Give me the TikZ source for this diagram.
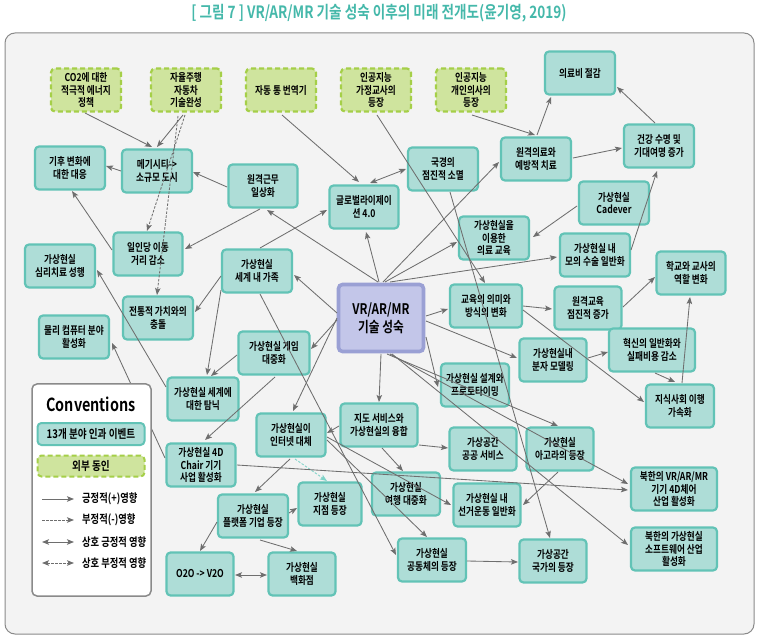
\documentclass[tikz,border=0pt]{standalone}
\usepackage{fontspec}
\setmainfont{Noto Sans CJK KR}[FakeStretch=0.8, BoldFont={Noto Sans CJK KR Bold}, BoldFeatures={FakeStretch=0.8}]
\usetikzlibrary{arrows.meta,calc}
\definecolor{tealF}{HTML}{AEDDD7}
\definecolor{tealB}{HTML}{62C3B6}
\definecolor{grnF}{HTML}{CFE49E}
\definecolor{grnB}{HTML}{A5CF48}
\definecolor{vrF}{HTML}{C3C6E9}
\definecolor{vrB}{HTML}{9AA0D4}
\definecolor{panelF}{HTML}{F3F3F3}
\definecolor{panelB}{HTML}{8A8A8A}
\definecolor{arrC}{HTML}{6E6E6E}
\definecolor{titleC}{HTML}{45B8AA}
\definecolor{negT}{HTML}{7FD3C8}
\newcommand\evfont{\fontsize{10.8}{12.6}\selectfont\bfseries}
\begin{document}
\begin{tikzpicture}[x=1pt,y=-1pt,
  ev/.style={draw=tealB, fill=tealF, line width=2.2pt, rounded corners=4pt, minimum width=70pt, minimum height=43pt, align=center, inner sep=1pt, font=\evfont},
  ex/.style={ev, draw=grnB, fill=grnF, dash pattern=on 5pt off 3pt},
  tip/.style={-{Stealth[length=7pt,width=5.5pt,inset=1.5pt]}},
  arr/.style={draw=arrC, line width=0.85pt, tip},
  both/.style={draw=arrC, line width=0.85pt, {Stealth[length=7pt,width=5.5pt,inset=1.5pt]}-{Stealth[length=7pt,width=5.5pt,inset=1.5pt]}},
  neg/.style={arr, dash pattern=on 2.5pt off 1.5pt},
  negt/.style={arr, draw=negT, dash pattern=on 2.5pt off 1.5pt},
  negboth/.style={both, dash pattern=on 2.5pt off 1.5pt},
  legtxt/.style={anchor=west, font=\fontsize{11.6}{13}\selectfont\bfseries, inner sep=0pt}
]
\useasboundingbox (0,0) rectangle (758,636);
\draw[fill=panelF, draw=panelB, line width=1pt, rounded corners=10pt] (5,33) rectangle (754,634);
\node[font=\fontsize{17}{19}\selectfont\bfseries, text=titleC] (title) at (379,13) {[ 그림 7 ] VR/AR/MR 기술 성숙 이후의 미래 전개도(윤기영, 2019)};

% external drivers
\node[ex] (co2) at (86,90) {CO2에 대한\\적극적 에너지\\정책};
\node[ex] (auto) at (186,90) {자율주행\\자동차\\기술완성};
\node[ex] (trans) at (281,90) {자동 통 번역기};
\node[ex] (aitutor) at (376,90) {인공지능\\가정교사의\\등장};
\node[ex] (aidoc) at (471,90) {인공지능\\개인의사의\\등장};

% events
\node[ev] (medcost) at (580,73) {의료비 절감};
\node[ev] (health) at (659,146) {건강 수명 및\\기대여명 증가};
\node[ev] (telemed) at (536,159) {원격의료와\\예방적 치료};
\node[ev] (cadever) at (614,203) {가상현실\\Cadever};
\node[ev] (medu) at (494,238) {가상현실을\\이용한\\의료 교육};
\node[ev] (surg) at (595,255) {가상현실 내\\모의 수술 일반화};
\node[ev, minimum width=69pt] (school) at (691,273) {학교와 교사의\\역할 변화};
\node[ev, minimum width=67pt] (remedu) at (588,308) {원격교육\\점진적 증가};
\node[ev, minimum width=72pt] (edu) at (486,306) {교육의 의미와\\방식의 변화};
\node[ev, minimum width=86pt] (innov) at (652,350) {혁신의 일반화와\\실패비용 감소};
\node[ev, minimum width=67pt] (mol) at (553,360) {가상현실내\\분자 모델링};
\node[ev, minimum width=68pt] (know) at (680,406) {지식사회 이행\\가속화};
\node[ev, minimum width=68pt] (design) at (475,385) {가상현실 설계와\\프로토타이밍};
\node[ev, draw=vrB, fill=vrF, line width=3.6pt, minimum width=85pt, minimum height=67pt, font=\fontsize{14.6}{18}\selectfont\bfseries] (vr) at (381,318) {VR/AR/MR\\기술 성숙};
\node[ev] (border) at (443,169) {국경의\\점진적 소멸};
\node[ev, minimum width=69pt] (glob) at (364,207) {글로벌라이제이\\션 4.0};
\node[ev, minimum width=69pt] (remwork) at (263,186) {원격근무\\일상화};
\node[ev] (mega) at (157,171) {메기시티->\\소규모 도시};
\node[ev] (climate) at (70,168) {기후 변화에\\대한 대응};
\node[ev, minimum width=69pt] (mobil) at (148,254) {일인당 이동\\거리 감소};
\node[ev] (psych) at (60,266) {가상현실\\심리치료 성행};
\node[ev] (family) at (257,271) {가상현실\\세계 내 가족};
\node[ev] (trad) at (158,318) {전통적 가치와의\\충돌};
\node[ev] (phys) at (74,337) {물리 컴퓨터 분야\\활성화};
\node[ev, minimum width=71pt] (game) at (274,353) {가상현실 게임\\대중화};
\node[ev, minimum width=71pt] (addict) at (203,399) {가상현실 세계에\\대한 탐닉};
\node[ev, minimum width=69pt] (chair) at (201,465) {가상현실 4D\\Chair 기기\\사업 활성화};
\node[ev, minimum width=69pt] (inet) at (291,435) {가상현실이\\인터넷 대체};
\node[ev] (platform) at (253,516) {가상현실\\플랫폼 기업 등장};
\node[ev, minimum width=63pt] (branch) at (330,504) {가상현실\\지점 등장};
\node[ev, minimum width=67pt] (oto) at (200,574) {O2O -> V2O};
\node[ev, minimum width=67pt] (dept) at (302,574) {가상현실\\백화점};
\node[ev, minimum width=77pt] (map) at (379,425) {지도 서비스와\\가상현실의 융합};
\node[ev, minimum width=67pt] (public) at (483,449) {가상공간\\공공 서비스};
\node[ev, minimum width=67pt] (agora) at (560,449) {가상현실\\아고라의 등장};
\node[ev, minimum width=68pt] (travel) at (406,494) {가상현실\\여행 대중화};
\node[ev, minimum width=67pt] (elect) at (487,505) {가상현실 내\\선거운동 일반화};
\node[ev, minimum width=86pt] (nkvr) at (674,489) {북한의 VR/AR/MR\\기기 4D체어\\산업 활성화};
\node[ev, minimum width=86pt] (nksw) at (674,549) {북한의 가상현실\\소프트웨어 산업\\활성화};
\node[ev, minimum width=68pt] (commun) at (432,560) {가상현실\\공동체의 등장};
\node[ev, minimum width=67pt] (nation) at (553,561) {가상공간\\국가의 등장};

% connectors
\draw[arr] ($(co2)+(-1,23)$) -- ($(mega)+(-5,-24)$);
\draw[arr] ($(auto)+(-3,25)$) -- ($(mega)+(0,-24)$);
\draw[neg] ($(auto)+(-1,25)$) -- ($(mobil)+(-1,-23)$);
\draw[neg] ($(auto)+(-8,26)$) -- ($(trad)+(-1,-23)$);
\draw[arr] ($(mega)+(-36,0)$) -- ($(climate)+(36,-2)$);
\draw[arr] ($(remwork)+(-36,1)$) -- ($(mega)+(36,1)$);
\draw[arr] ($(remwork)+(-3,23)$) -- ($(mobil)+(37,-5)$);
\draw[arr] ($(mobil)+(-36,-4)$) -- ($(climate)+(2,23)$);
\draw[arr] ($(trans)+(1,25)$) -- ($(glob)+(-5,-25)$);
\draw[both] ($(glob)+(6,-24)$) -- ($(border)+(-37,0)$);
\draw[arr] ($(aitutor)+(1,25)$) -- ($(edu)+(-1,-23)$);
\draw[arr] ($(aidoc)+(1,25)$) -- ($(telemed)+(-1,-24)$);
\draw[arr] ($(telemed)+(1,-24)$) -- ($(medcost)+(-29,24)$);
\draw[arr] ($(telemed)+(37,-1)$) -- ($(health)+(-37,2)$);
\draw[arr] ($(health)+(-4,-23)$) -- ($(medcost)+(37,14)$);
\draw[arr] ($(cadever)+(-37,3)$) -- ($(medu)+(39,-1)$);
\draw[arr] ($(surg)+(36,-5)$) -- ($(health)+(-2,25)$);
\draw[arr] ($(vr)+(2,-36)$) -- ($(telemed)+(-37,3)$);
\draw[arr] ($(vr)+(4,-36)$) -- ($(medu)+(-37,4)$);
\draw[arr] ($(vr)+(9,-36)$) -- ($(surg)+(-38,2)$);
\draw[arr] ($(vr)+(-2,-36)$) -- ($(glob)+(2,25)$);
\draw[arr] ($(vr)+(-3,-36)$) -- ($(remwork)+(4,24)$);
\draw[arr] ($(family)+(3,-23)$) -- ($(glob)+(-37,3)$);
\draw[arr] ($(vr)+(-44,-5)$) -- ($(family)+(37,4)$);
\draw[arr] ($(family)+(-36,5)$) -- ($(trad)+(37,-6)$);
\draw[arr] ($(family)+(-36,19)$) -- ($(addict)+(4,-24)$);
\draw[arr] ($(family)+(3,23)$) -- ($(commun)+(-36,-5)$);
\draw[arr] ($(vr)+(-44,2)$) -- ($(game)+(37,-4)$);
\draw[arr] ($(vr)+(-44,0)$) -- ($(inet)+(2,-24)$);
\draw[arr] ($(game)+(-37,2)$) -- ($(addict)+(8,-23)$);
\draw[arr] ($(game)+(1,24)$) -- ($(chair)+(4,-25)$);
\draw[arr] ($(addict)+(-37,-12)$) -- ($(psych)+(37,4)$);
\draw[arr] ($(chair)+(-36,-7)$) -- ($(phys)+(38,6)$);
\draw[arr] ($(inet)+(-1,24)$) -- ($(platform)+(2,-24)$);
\draw[negt] ($(inet)+(4,24)$) -- ($(branch)+(-3,-23)$);
\draw[arr] ($(platform)+(36,-3)$) -- ($(branch)+(-33,4)$);
\draw[arr] ($(platform)+(-36,6)$) -- ($(oto)+(0,-23)$);
\draw[arr] ($(platform)+(7,24)$) -- ($(dept)+(-5,-23)$);
\draw[both] ($(oto)+(35,1)$) -- ($(dept)+(-35,1)$);
\draw[arr] ($(map)+(-40,1)$) -- ($(inet)+(36,-2)$);
\draw[arr] ($(vr)+(0,36)$) -- ($(map)+(0,-23)$);
\draw[arr] ($(map)+(40,20)$) -- ($(public)+(-35,-1)$);
\draw[arr] ($(map)+(3,23)$) -- ($(travel)+(-3,-23)$);
\draw[arr] ($(inet)+(36,2)$) -- ($(elect)+(-36,0)$);
\draw[arr] ($(inet)+(36,5)$) -- ($(commun)+(-5,-23)$);
\draw[arr] ($(vr)+(45,19)$) -- ($(design)+(-37,2)$);
\draw[arr] ($(vr)+(45,3)$) -- ($(mol)+(-36,-2)$);
\draw[arr] ($(vr)+(45,-2)$) -- ($(edu)+(-38,3)$);
\draw[arr] ($(vr)+(6,36)$) -- ($(agora)+(-2,-23)$);
\draw[arr] ($(vr)+(9,36)$) -- ($(nkvr)+(-46,-5)$);
\draw[arr] ($(vr)+(11,36)$) -- ($(nksw)+(-46,-4)$);
\draw[arr] ($(chair)+(36,0)$) -- ($(nkvr)+(-46,1)$);
\draw[arr] ($(border)+(7,23)$) -- ($(nation)+(-3,-23)$);
\draw[arr] ($(commun)+(35,1)$) -- ($(nation)+(-35,1)$);
\draw[arr] ($(agora)+(-2,23)$) -- ($(elect)+(36,0)$);
\draw[arr] ($(edu)+(37,0)$) -- ($(remedu)+(-36,1)$);
\draw[arr] ($(edu)+(37,4)$) -- ($(know)+(-36,-4)$);
\draw[arr] ($(remedu)+(35,-1)$) -- ($(school)+(-36,4)$);
\draw[arr] ($(mol)+(35,-2)$) -- ($(innov)+(-44,2)$);
\draw[arr] ($(innov)+(3,23)$) -- ($(know)+(-5,-24)$);
\draw[arr] ($(know)+(2,-23)$) -- ($(school)+(-1,24)$);

% conventions
\node[draw=panelB, fill=white, line width=1.5pt, rounded corners=5pt, minimum width=119pt, minimum height=212pt] (conv) at (91.5,490) {};
\node[font=\fontsize{18}{20}\selectfont\bfseries] (convt) at (91,404) {Conventions};
\node[ev, minimum width=107pt, minimum height=22pt, line width=2pt, font=\fontsize{12}{13}\selectfont\bfseries] (leg1) at (91,434) {13개 분야 인과 이벤트};
\node[ex, minimum width=107pt, minimum height=21pt, line width=2pt, font=\fontsize{12}{13}\selectfont\bfseries] (leg2) at (91,466) {외부 동인};
\coordinate (l1a) at (42,499); \coordinate (l1b) at (74,499);
\coordinate (l2a) at (42,520); \coordinate (l2b) at (74,520);
\coordinate (l3a) at (42,542); \coordinate (l3b) at (74,542);
\coordinate (l4a) at (42,563); \coordinate (l4b) at (74,563);
\draw[arr] (l1a) -- (l1b);
\draw[neg] (l2a) -- (l2b);
\draw[both] (l3a) -- (l3b);
\draw[negboth] (l4a) -- (l4b);
\node[legtxt] (t1) at (82,499) {긍정적(+)영향};
\node[legtxt] (t2) at (82,520) {부정적(-)영향};
\node[legtxt] (t3) at (82,542) {상호 긍정적 영향};
\node[legtxt] (t4) at (82,563) {상호 부정적 영향};
\end{tikzpicture}
\end{document}
